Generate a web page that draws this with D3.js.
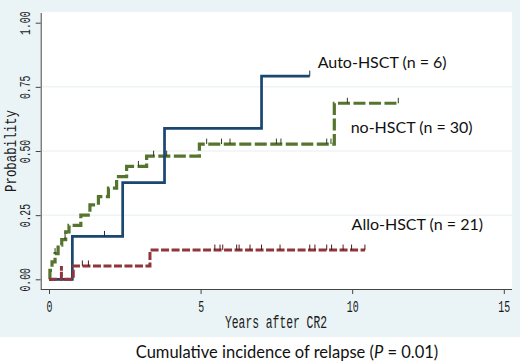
<!DOCTYPE html>
<html><head><meta charset="utf-8">
<script src="https://cdn.jsdelivr.net/npm/d3@7"></script>
<style>
html,body{margin:0;padding:0;background:#fff;}
svg{display:block;}
</style></head>
<body>
<svg id="c" width="520" height="361"></svg>
<script>
// ---- data ----
const xTicks = [0, 5, 10, 15];
const yTicks = [0, 0.25, 0.5, 0.75, 1];
const yTickLabels = ["0.00", "0.25", "0.50", "0.75", "1.00"];

// Auto-HSCT (n = 6): jump times and level after each jump
const autoTimes  = [0, 0.77, 2.43, 3.81, 7.01];
const autoLevels = [0, 0.167, 0.377, 0.588, 0.792];
const autoEnd = 8.6;
const autoCensor = [1.83, 8.6];

// no-HSCT (n = 30)
const noTimes  = [0, 0.03, 0.1, 0.2, 0.3, 0.42, 0.55, 0.66, 1.05, 1.35, 1.63, 1.96, 2.23, 2.56, 3.22, 4.96, 9.41];
const noLevels = [0, 0.035, 0.068, 0.1, 0.133, 0.155, 0.185, 0.21, 0.25, 0.29, 0.322, 0.355, 0.40, 0.44, 0.48, 0.527, 0.686];
const noEnd = 11.52;
const noCensor = [0.2, 0.53, 2.95, 3.45, 3.88, 5.2, 5.69, 5.97, 7.5, 7.65, 9.16, 9.3, 9.84, 11.52];

// Allo-HSCT (n = 21)
const alloTimes  = [0, 0.41, 0.41, 0.8, 3.33];
const alloLevels = [0, 0.052, 0, 0.052, 0.114];
const alloEnd = 10.42;
const alloCensor = [1.1, 1.3, 5.47, 5.64, 5.73, 6.19, 6.27, 6.63, 7.01, 7.62, 8.6, 8.77, 9.16, 9.32, 9.7, 9.98, 10.42];

const seriesNames = ["Auto-HSCT (n = 6)", "no-HSCT (n = 30)", "Allo-HSCT (n = 21)"];
const xTitle = "Years after CR2";
const yTitle = "Probability";

// ---- drawing ----
const svg = d3.select("#c");
const x = d3.scaleLinear().domain([0, 15]).range([49, 503.8]);
const y = d3.scaleLinear().domain([0, 1]).range([279.3, 22.7]);

svg.append("rect").attr("x",0).attr("y",0).attr("width",520).attr("height",337).attr("fill","#eaf3f5");
svg.append("rect").attr("x",40.7).attr("y",12).attr("width",471.5).attr("height",277).attr("fill","#ffffff");

// grid
svg.append("g").selectAll("line").data(yTicks.slice(1,4)).join("line")
  .attr("x1",41).attr("x2",512).attr("y1",d=>y(d)).attr("y2",d=>y(d))
  .attr("stroke","#e6eef1").attr("stroke-width",1);

const monoFont = "'Liberation Mono','DejaVu Sans Mono',monospace";
// mono glyph advance is 0.6em; narrow it horizontally to the reference's half-width look
const sx = 0.6;

// x axis
const xAxis = svg.append("g").attr("transform","translate(0,289)")
  .call(d3.axisBottom(x).tickValues(xTicks).tickSize(5).tickFormat(d3.format("d")));
xAxis.select(".domain").attr("d","M40.7,0.5H512").attr("stroke","#444");
xAxis.selectAll(".tick line").attr("stroke","#444");
xAxis.selectAll(".tick text").attr("font-family",monoFont).attr("font-size",16.5).attr("fill","#1a1a1a")
  .attr("dy",null).attr("y",null)
  .attr("transform",`translate(0,22.7) scale(${sx},1)`);

// y axis
const yAxis = svg.append("g").attr("transform","translate(40.7,0)")
  .call(d3.axisLeft(y).tickValues(yTicks).tickSize(5).tickFormat((d,i)=>yTickLabels[i]));
yAxis.select(".domain").attr("d","M0.5,13V289").attr("stroke","#444");
yAxis.selectAll(".tick line").attr("stroke","#444");
yAxis.selectAll(".tick text").attr("font-family",monoFont).attr("font-size",15).attr("fill","#1a1a1a")
  .attr("x",null).attr("dy",null).attr("text-anchor","middle")
  .attr("transform",`translate(-10.3,0) rotate(-90) scale(0.65,1)`);

// axis titles
svg.append("text").text(xTitle).attr("text-anchor","middle")
  .attr("transform","translate(276,327.5) scale(0.648,1)")
  .attr("font-family",monoFont).attr("font-size",17.5).attr("fill","#1a1a1a");
svg.append("text").text(yTitle).attr("transform","translate(15.5,151) rotate(-90) scale(0.777,1)").attr("text-anchor","middle")
  .attr("font-family",monoFont).attr("font-size",16).attr("fill","#1a1a1a");

// curves
function pts(times, levels, end){
  const p = times.map((t,i)=>[t, levels[i]]);
  p.push([end, levels[levels.length-1]]);
  return p;
}
function levelAt(times, levels, t){
  let v = levels[0];
  for(let i=0;i<times.length;i++){ if(times[i] <= t) v = levels[i]; }
  return v;
}
const line = d3.line().x(d=>x(d[0])).y(d=>y(d[1])).curve(d3.curveStepAfter);

const series = [
  {times:noTimes, levels:noLevels, end:noEnd, cens:noCensor, color:"#55752f", w:3.2, dash:"12,3.5", tick:"#2e3f1a"},
  {times:autoTimes, levels:autoLevels, end:autoEnd, cens:autoCensor, color:"#1a476f", w:2.7, dash:null, tick:"#10304c"},
  {times:alloTimes, levels:alloLevels, end:alloEnd, cens:alloCensor, color:"#90353b", w:3, dash:"8,2.5", tick:"#4e181c"}
];
series.forEach(s=>{
  svg.append("path").attr("d", line(pts(s.times, s.levels, s.end)))
    .attr("fill","none").attr("stroke",s.color).attr("stroke-width",s.w)
    .attr("stroke-dasharray",s.dash).attr("stroke-linejoin","miter");
  svg.append("g").selectAll("line").data(s.cens).join("line")
    .attr("x1",d=>x(d)).attr("x2",d=>x(d))
    .attr("y1",d=>y(levelAt(s.times,s.levels,d)))
    .attr("y2",d=>y(levelAt(s.times,s.levels,d))-5.5)
    .attr("stroke",s.tick).attr("stroke-width",1);
});

// series labels
const labelFont = "Lato, 'Open Sans', sans-serif";
const labelPos = [[8.86, 67.7],[9.95, 133],[9.98, 230]];
seriesNames.forEach((n,i)=>{
  svg.append("text").text(n).attr("x",x(labelPos[i][0])).attr("y",labelPos[i][1])
    .attr("font-family",labelFont).attr("font-size",16).attr("fill","#111");
});

// caption
const cap = svg.append("text").attr("x",287).attr("y",358).attr("text-anchor","middle")
  .attr("font-family",labelFont).attr("font-size",16.5).attr("fill","#111");
cap.append("tspan").text("Cumulative incidence of relapse (");
cap.append("tspan").text("P").attr("font-style","italic");
cap.append("tspan").text(" = 0.01)");
</script>
</body></html>
